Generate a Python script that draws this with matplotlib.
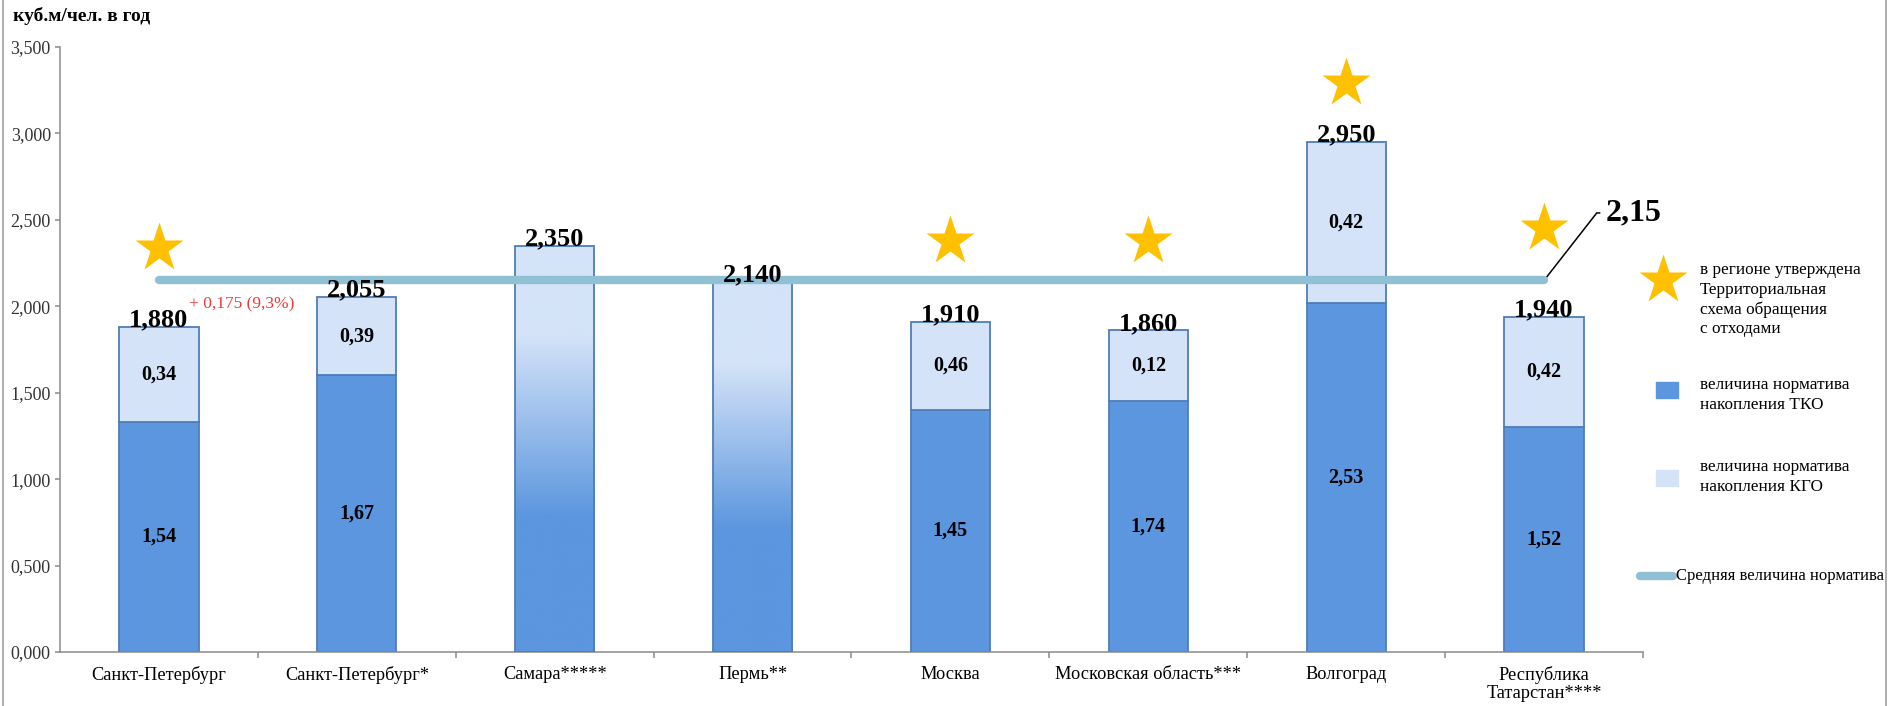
import numpy as np
import matplotlib
matplotlib.use("Agg")
import matplotlib.pyplot as plt
from matplotlib.colors import LinearSegmentedColormap
from matplotlib.patches import Rectangle
from matplotlib.ticker import FuncFormatter, FixedLocator

plt.rcParams['font.family'] = ['Liberation Serif', 'DejaVu Serif']

regions = ["Санкт-Петербург", "Санкт-Петербург*", "Самара*****", "Пермь**", "Москва",
           "Московская область***", "Волгоград", "Республика\nТатарстан****"]
totals = [1.880, 2.055, 2.350, 2.140, 1.910, 1.860, 2.950, 1.940]
# height of the dark (ТКО) part as it is drawn; nan -> single gradient bar
tko_drawn = [1.33, 1.60, np.nan, np.nan, 1.40, 1.45, 2.02, 1.30]
tko_norm = [1.54, 1.67, np.nan, np.nan, 1.45, 1.74, 2.53, 1.52]
kgo_norm = [0.34, 0.39, np.nan, np.nan, 0.46, 0.12, 0.42, 0.42]
average = 2.15
star_levels = [2.34, np.nan, np.nan, np.nan, 2.38, 2.38, 3.29, 2.45]

DARK = "#5B96DE"
LIGHT = "#D4E3F8"
EDGE = "#4F7DB8"
AVG = "#8FC0D3"
STAR = "#FFC000"

W, H = 1889, 706
fig = plt.figure(figsize=(W / 100, H / 100), dpi=100)
ax = fig.add_axes([60 / W, 54 / H, 1583 / W, 605 / H])

def fmt(v, nd):
    return f"{v:.{nd}f}".replace(".", ",")

x = np.arange(len(regions))
bw = 0.40

grad = LinearSegmentedColormap.from_list(
    "grad", [(0.0, DARK), (0.33, DARK), (0.78, LIGHT), (1.0, LIGHT)])

for i in x:
    if np.isnan(tko_drawn[i]):
        bar = ax.bar(i, totals[i], bw, facecolor="none", edgecolor=EDGE, lw=1.3, zorder=3)[0]
        im = ax.imshow(np.linspace(0, 1, 256).reshape(-1, 1), cmap=grad, origin="lower",
                       extent=[i - bw / 2, i + bw / 2, 0, totals[i]], aspect="auto", zorder=2)
        im.set_clip_path(bar)
    else:
        ax.bar(i, tko_drawn[i], bw, color=DARK, edgecolor=EDGE, lw=1.3, zorder=2)
        ax.bar(i, totals[i] - tko_drawn[i], bw, bottom=tko_drawn[i], color=LIGHT,
               edgecolor=EDGE, lw=1.3, zorder=2)
        ax.text(i, tko_drawn[i] / 2, fmt(tko_norm[i], 2), ha="center", va="center",
                fontsize=14.5, fontweight="bold", zorder=5)
        ax.text(i, (tko_drawn[i] + totals[i]) / 2, fmt(kgo_norm[i], 2), ha="center",
                va="center", fontsize=14.5, fontweight="bold", zorder=5)
    ax.text(i, totals[i] + 0.003, fmt(totals[i], 3), ha="center", va="baseline",
            fontsize=19, fontweight="bold", zorder=6)

# average line
ax.plot(x, [average] * len(x), color=AVG, lw=6, solid_capstyle="round", zorder=4)
ax.annotate(fmt(average, 2), xy=(x[-1], average), xytext=(7.31, 2.54),
            textcoords="data", ha="left", va="center", fontsize=23, fontweight="bold",
            annotation_clip=False,
            arrowprops=dict(arrowstyle="-", color="black", lw=1.1, relpos=(0, 0.5),
                            shrinkA=2, shrinkB=0,
                            connectionstyle="angle,angleA=0,angleB=52,rad=0"))

# stars
ax.plot(x, star_levels, ls="none", marker="*", ms=37, color=STAR, mec="none",
        zorder=5, clip_on=False)

# difference note
diff = totals[1] - totals[0]
ax.text(0.15, 2.01, f"+ {fmt(diff, 3)} ({fmt(diff / totals[0] * 100, 1)}%)",
        color="#F03A3A", fontsize=12.5, ha="left", va="center", zorder=6)

ax.set_xlim(-0.5, 7.5)
ax.set_ylim(0, 3.5)
ax.set_yticks(np.arange(0, 3.51, 0.5))
ax.yaxis.set_major_formatter(FuncFormatter(lambda v, p: fmt(v, 3)))
ax.set_xticks(x)
ax.set_xticklabels(regions, fontsize=13.2, va="top", linespacing=1.05)
ax.xaxis.set_minor_locator(FixedLocator(np.arange(0.5, 7.6, 1.0)))
ax.tick_params(axis="x", which="major", length=0, pad=10)
ax.tick_params(axis="x", which="minor", length=4.5, width=1.1, color="#8a8a8a")
ax.tick_params(axis="y", length=3.6, width=1.1, color="#8a8a8a", labelsize=13,
               labelcolor="#333333", pad=3)
for s in ["top", "right"]:
    ax.spines[s].set_visible(False)
for s in ["left", "bottom"]:
    ax.spines[s].set_color("#8a8a8a")
    ax.spines[s].set_linewidth(1.1)

fig.text(13 / W, 1 - 16 / H, "куб.м/чел. в год", fontsize=14, fontweight="bold",
         ha="left", va="center")

# legend and frame drawn in pixel space
lax = fig.add_axes([0, 0, 1, 1], zorder=10)
lax.set_xlim(0, W)
lax.set_ylim(H, 0)
lax.axis("off")
lax.patch.set_visible(False)

lax.plot([3, 3], [0, H], color="#a0a0a0", lw=1.2)
lax.plot([1886, 1886], [0, H], color="#a0a0a0", lw=1.2)

lfs = 12.4
lax.plot([1663], [280], marker="*", ms=37, color=STAR, mec="none")
lax.text(1700, 262, "в регионе утверждена\nТерриториальная\nсхема обращения\nс отходами",
         fontsize=lfs, ha="left", va="top", linespacing=1.3)
lax.add_patch(Rectangle((1656, 382), 22, 16, color=DARK))
lax.text(1700, 395, "величина норматива\nнакопления ТКО", fontsize=lfs, ha="left",
         va="center", linespacing=1.3)
lax.add_patch(Rectangle((1656, 470), 22, 16, color=LIGHT))
lax.text(1700, 477, "величина норматива\nнакопления КГО", fontsize=lfs, ha="left",
         va="center", linespacing=1.3)
lax.plot([1640, 1673], [576, 576], color=AVG, lw=6, solid_capstyle="round")
lax.text(1676, 576, "Средняя величина норматива", fontsize=12, ha="left", va="center")

fig.savefig("out.png", dpi=100)
